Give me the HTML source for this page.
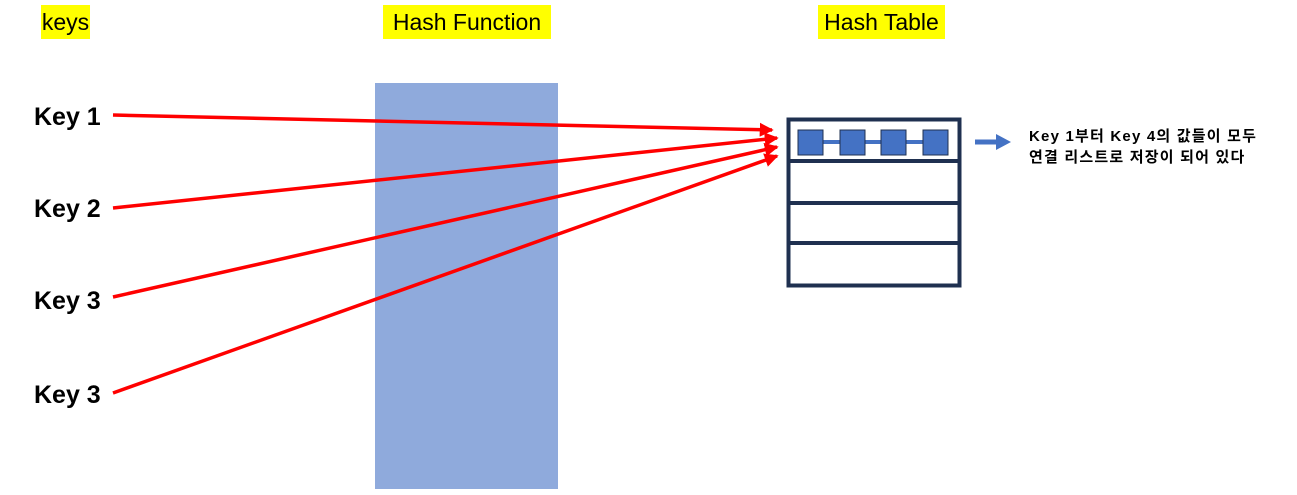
<!DOCTYPE html>
<html><head><meta charset="utf-8">
<style>
body{margin:0;width:1297px;height:495px;background:#fff;position:relative;overflow:hidden;font-family:"Liberation Sans","Noto Sans CJK KR",sans-serif;}
.hl{position:absolute;background:#ffff00;font-size:23px;line-height:34px;text-align:center;color:#000;top:5px;height:34px;white-space:nowrap;}
.k{position:absolute;left:34px;font-size:25px;font-weight:bold;color:#000;line-height:28px;}
.note{position:absolute;left:1029px;top:126px;font-size:15px;letter-spacing:1.2px;font-weight:bold;line-height:21px;color:#000;white-space:nowrap;}
</style></head><body>
<div class="hl" style="left:41px;width:49px;">keys</div>
<div class="hl" style="left:383px;width:168px;">Hash Function</div>
<div class="hl" style="left:818px;width:127px;">Hash Table</div>
<div style="position:absolute;left:375px;top:83px;width:183px;height:406px;background:#8faadc;"></div>
<div class="k" style="top:103px;">Key 1</div>
<div class="k" style="top:195px;">Key 2</div>
<div class="k" style="top:287px;">Key 3</div>
<div class="k" style="top:381px;">Key 3</div>
<svg width="1297" height="495" style="position:absolute;left:0;top:0">
<defs><marker id="a" markerWidth="4" markerHeight="4" refX="3.5" refY="2" orient="auto" markerUnits="strokeWidth"><path d="M0,0 L4,2 L0,4 z" fill="#ff0000"/></marker></defs>
<g stroke="#ff0000" stroke-width="3.5" fill="none" marker-end="url(#a)">
<line x1="113" y1="115" x2="772" y2="130"/>
<line x1="113" y1="208" x2="777" y2="138"/>
<line x1="113" y1="297" x2="777" y2="147"/>
<line x1="113" y1="393" x2="777" y2="156"/>
</g>
<rect x="788.5" y="119.5" width="171" height="166" fill="#fff" stroke="#1f3050" stroke-width="4"/>
<g stroke="#1f3050" stroke-width="4"><line x1="788" y1="161" x2="960" y2="161"/><line x1="788" y1="203" x2="960" y2="203"/><line x1="788" y1="243" x2="960" y2="243"/></g>
<line x1="810" y1="142" x2="935" y2="142" stroke="#4472c4" stroke-width="4"/>
<g fill="#4472c4" stroke="#1f3050" stroke-width="1">
<rect x="798" y="130" width="25" height="25"/><rect x="840" y="130" width="25" height="25"/><rect x="881" y="130" width="25" height="25"/><rect x="923" y="130" width="25" height="25"/></g>
<line x1="975" y1="142" x2="998" y2="142" stroke="#4472c4" stroke-width="5"/>
<path d="M996,134 L1011,142 L996,150 z" fill="#4472c4"/>
</svg>
<div class="note">Key 1부터 Key 4의 값들이 모두<br>연결 리스트로 저장이 되어 있다</div>
</body></html>
